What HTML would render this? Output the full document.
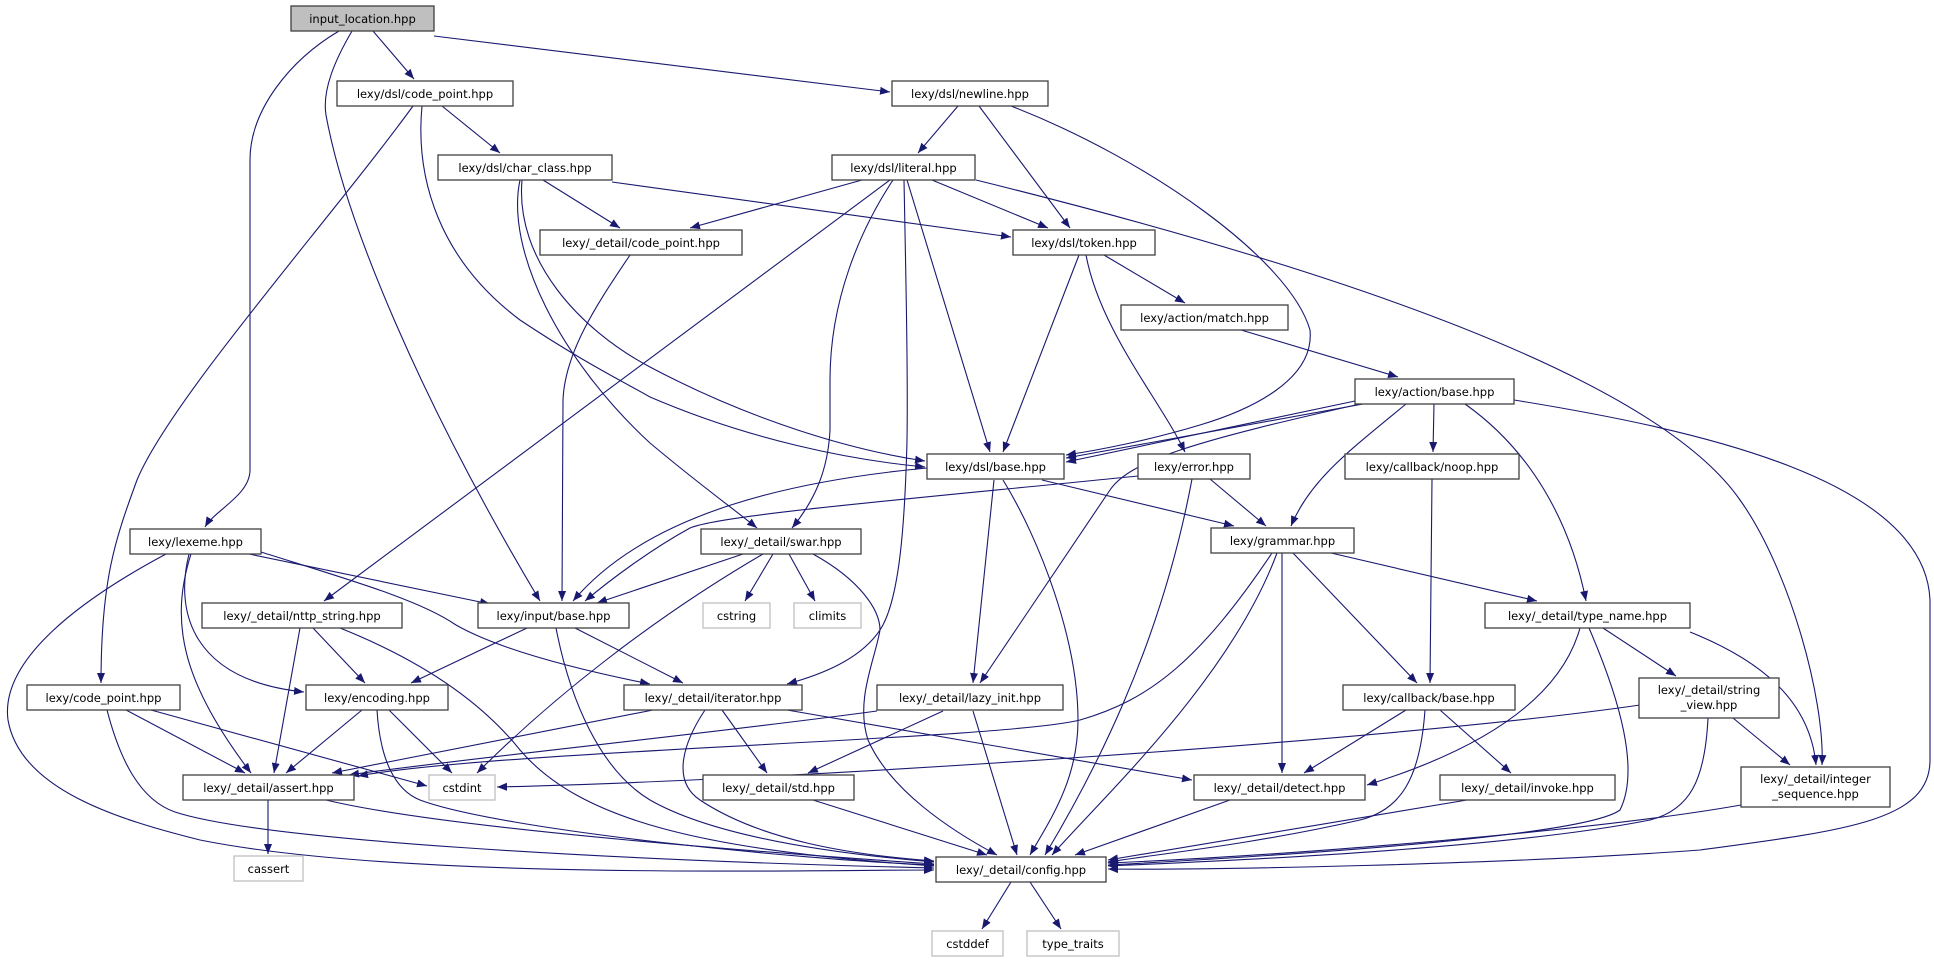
<!DOCTYPE html>
<html><head><meta charset="utf-8"><style>
html,body{margin:0;padding:0;background:#fff;}
svg{display:block;}
text{font-family:"DejaVu Sans","Liberation Sans",sans-serif;font-size:11.5px;fill:#000;text-anchor:middle;}
.n{fill:#fff;stroke:#404040;stroke-width:1.3;}
.g{fill:#fff;stroke:#bfbfbf;stroke-width:1.3;}
.e{fill:none;stroke:#191970;stroke-width:1.1;marker-end:url(#a);}
</style></head><body>
<svg width="1934" height="963" viewBox="0 0 1934 963" xmlns="http://www.w3.org/2000/svg">
<defs><marker id="a" markerUnits="userSpaceOnUse" markerWidth="11" markerHeight="9" refX="10" refY="4" orient="auto"><path d="M0,0 L10,4 L0,8 z" fill="#191970"/></marker></defs>
<g>
<path class="e" d="M373,31 L414,79"/>
<path class="e" d="M434,36 L890,92"/>
<path class="e" d="M339,31 C290,60 250,110 250,160 L250,470 C250,495 215,510 205,527"/>
<path class="e" d="M352,31 C335,60 322,90 326,115 C345,220 420,400 540,601"/>
<path class="e" d="M442,106 L500,153"/>
<path class="e" d="M413,106 C330,220 170,400 137,480 C115,540 101,580 101,683"/>
<path class="e" d="M422,106 C415,180 440,260 520,320 C580,360 620,380 650,397 C750,440 850,460 925,467"/>
<path class="e" d="M543,180 L620,228"/>
<path class="e" d="M612,182 L1011,237"/>
<path class="e" d="M522,180 C515,260 580,330 650,367 C750,420 850,450 925,461"/>
<path class="e" d="M520,180 C505,250 560,360 650,443 C700,485 735,510 757,528"/>
<path class="e" d="M630,255 C600,300 565,350 563,400 L562,601"/>
<path class="e" d="M958,106 L918,153"/>
<path class="e" d="M979,106 L1070,228"/>
<path class="e" d="M1011,106 C1150,160 1290,260 1310,330 C1315,380 1250,410 1200,425 C1150,440 1100,450 1066,455"/>
<path class="e" d="M862,180 L690,228"/>
<path class="e" d="M932,180 L1048,228"/>
<path class="e" d="M907,180 L990,452"/>
<path class="e" d="M893,180 C860,230 830,300 830,380 L830,430 C828,470 815,500 792,528"/>
<path class="e" d="M904,180 C906,280 908,380 907,440 C905,520 900,600 880,630 C860,660 820,675 787,684"/>
<path class="e" d="M890,180 L324,601"/>
<path class="e" d="M976,180 C1300,260 1650,370 1740,500 C1790,570 1825,700 1822,765"/>
<path class="e" d="M1079,255 L1003,452"/>
<path class="e" d="M1104,255 L1185,303"/>
<path class="e" d="M1086,255 C1100,330 1160,400 1185,452"/>
<path class="e" d="M1241,330 L1398,377"/>
<path class="e" d="M1363,404 L1066,458"/>
<path class="e" d="M1355,401 L1066,462"/>
<path class="e" d="M1406,404 C1350,450 1310,480 1291,526"/>
<path class="e" d="M1434,404 L1433,452"/>
<path class="e" d="M1465,404 C1530,450 1570,520 1586,601"/>
<path class="e" d="M1360,404 C1200,440 1130,460 1110,490 L980,683"/>
<path class="e" d="M1514,400 C1700,430 1925,480 1930,600 L1930,760 C1930,820 1850,830 1700,850 C1500,865 1200,870 1108,869"/>
<path class="e" d="M927,468 C800,480 650,510 573,601"/>
<path class="e" d="M1042,480 L1234,526"/>
<path class="e" d="M994,480 L973,683"/>
<path class="e" d="M1003,480 C1040,540 1078,640 1078,720 C1078,780 1050,820 1030,855"/>
<path class="e" d="M1138,476 C900,500 720,515 690,528 C650,550 610,580 585,601"/>
<path class="e" d="M1210,479 L1266,526"/>
<path class="e" d="M1192,479 C1160,650 1090,780 1045,855"/>
<path class="e" d="M1432,479 L1430,683"/>
<path class="e" d="M1331,553 L1537,601"/>
<path class="e" d="M1293,553 L1417,683"/>
<path class="e" d="M1282,553 L1282,773"/>
<path class="e" d="M1277,553 C1230,680 1100,800 1052,855"/>
<path class="e" d="M1272,553 C1200,660 1150,700 1080,720 C1000,740 500,750 358,776"/>
<path class="e" d="M166,554 C80,600 0,660 8,720 C20,790 120,820 200,840 C400,880 800,870 934,870"/>
<path class="e" d="M249,554 L490,604"/>
<path class="e" d="M261,552 C350,580 420,600 456,625 C500,650 580,670 650,684"/>
<path class="e" d="M189,554 C175,610 190,680 304,692"/>
<path class="e" d="M191,554 C170,620 180,680 251,773"/>
<path class="e" d="M743,554 L597,603"/>
<path class="e" d="M773,554 L745,601"/>
<path class="e" d="M789,554 L815,601"/>
<path class="e" d="M763,554 C650,620 550,700 477,773"/>
<path class="e" d="M813,554 C860,580 880,610 880,630 C875,660 855,700 868,740 C890,790 950,830 997,855"/>
<path class="e" d="M313,628 L365,683"/>
<path class="e" d="M300,628 L274,773"/>
<path class="e" d="M340,628 C420,660 480,700 520,750 C580,820 700,850 934,866"/>
<path class="e" d="M527,628 L411,683"/>
<path class="e" d="M575,628 L683,683"/>
<path class="e" d="M556,628 C570,700 600,770 650,800 C720,840 850,855 934,862"/>
<path class="e" d="M1603,628 L1676,676"/>
<path class="e" d="M1690,632 C1760,660 1810,700 1816,765"/>
<path class="e" d="M1580,628 C1560,700 1480,750 1367,785"/>
<path class="e" d="M1589,628 C1620,700 1640,770 1620,810 C1580,840 1200,860 1108,865"/>
<path class="e" d="M126,710 L245,773"/>
<path class="e" d="M151,710 L427,786"/>
<path class="e" d="M107,710 C120,760 140,800 175,812 C260,840 600,860 934,868"/>
<path class="e" d="M362,710 L286,773"/>
<path class="e" d="M389,710 L452,773"/>
<path class="e" d="M377,710 C380,760 395,790 420,800 C500,830 800,860 934,865"/>
<path class="e" d="M653,710 L332,773"/>
<path class="e" d="M722,710 L767,773"/>
<path class="e" d="M787,710 L1192,780"/>
<path class="e" d="M705,710 C685,740 670,780 700,800 C760,840 850,855 934,861"/>
<path class="e" d="M877,711 C700,735 450,760 349,775"/>
<path class="e" d="M943,711 L808,773"/>
<path class="e" d="M973,711 L1017,855"/>
<path class="e" d="M1406,710 L1304,773"/>
<path class="e" d="M1440,710 L1511,773"/>
<path class="e" d="M1425,710 C1420,780 1400,810 1360,820 C1250,845 1150,855 1108,862"/>
<path class="e" d="M1640,705 C1400,740 800,780 497,787"/>
<path class="e" d="M1733,718 L1790,765"/>
<path class="e" d="M1708,718 C1705,780 1690,810 1650,820 C1500,850 1200,862 1108,866"/>
<path class="e" d="M268,800 L268,854"/>
<path class="e" d="M326,800 C450,830 800,855 934,864"/>
<path class="e" d="M813,800 L987,855"/>
<path class="e" d="M1230,800 L1075,855"/>
<path class="e" d="M1467,800 L1108,860"/>
<path class="e" d="M1741,805 C1600,830 1300,855 1108,863"/>
<path class="e" d="M1011,882 L982,929"/>
<path class="e" d="M1030,882 L1061,929"/>
</g>
<g>
<rect x="291" y="6" width="143" height="25" fill="#bfbfbf" stroke="#404040" stroke-width="1.3"/><text x="362.5" y="23">input_location.hpp</text>
<rect class="n" x="337" y="81" width="176" height="25"/><text x="425" y="98">lexy/dsl/code_point.hpp</text>
<rect class="n" x="892" y="81" width="156" height="25"/><text x="970" y="98">lexy/dsl/newline.hpp</text>
<rect class="n" x="438" y="155" width="174" height="25"/><text x="525" y="172">lexy/dsl/char_class.hpp</text>
<rect class="n" x="832" y="155" width="143" height="25"/><text x="903.5" y="172">lexy/dsl/literal.hpp</text>
<rect class="n" x="540" y="230" width="202" height="25"/><text x="641" y="247">lexy/_detail/code_point.hpp</text>
<rect class="n" x="1013" y="230" width="142" height="25"/><text x="1084" y="247">lexy/dsl/token.hpp</text>
<rect class="n" x="1121" y="305" width="167" height="25"/><text x="1204.5" y="322">lexy/action/match.hpp</text>
<rect class="n" x="1355" y="379" width="159" height="25"/><text x="1434.5" y="396">lexy/action/base.hpp</text>
<rect class="n" x="927" y="454" width="137" height="25"/><text x="995.5" y="471">lexy/dsl/base.hpp</text>
<rect class="n" x="1138" y="454" width="112" height="25"/><text x="1194" y="471">lexy/error.hpp</text>
<rect class="n" x="1345" y="454" width="174" height="25"/><text x="1432" y="471">lexy/callback/noop.hpp</text>
<rect class="n" x="130" y="529" width="131" height="25"/><text x="195.5" y="546">lexy/lexeme.hpp</text>
<rect class="n" x="701" y="529" width="160" height="25"/><text x="781" y="546">lexy/_detail/swar.hpp</text>
<rect class="n" x="1211" y="528" width="143" height="25"/><text x="1282.5" y="545">lexy/grammar.hpp</text>
<rect class="n" x="202" y="603" width="200" height="25"/><text x="302" y="620">lexy/_detail/nttp_string.hpp</text>
<rect class="n" x="478" y="603" width="151" height="25"/><text x="553.5" y="620">lexy/input/base.hpp</text>
<rect class="g" x="703" y="603" width="67" height="25"/><text x="736.5" y="620">cstring</text>
<rect class="g" x="794" y="603" width="67" height="25"/><text x="827.5" y="620">climits</text>
<rect class="n" x="1485" y="603" width="205" height="25"/><text x="1587.5" y="620">lexy/_detail/type_name.hpp</text>
<rect class="n" x="27" y="685" width="153" height="25"/><text x="103.5" y="702">lexy/code_point.hpp</text>
<rect class="n" x="306" y="685" width="142" height="25"/><text x="377" y="702">lexy/encoding.hpp</text>
<rect class="n" x="624" y="685" width="178" height="25"/><text x="713" y="702">lexy/_detail/iterator.hpp</text>
<rect class="n" x="877" y="685" width="186" height="25"/><text x="970" y="702">lexy/_detail/lazy_init.hpp</text>
<rect class="n" x="1343" y="685" width="172" height="25"/><text x="1429" y="702">lexy/callback/base.hpp</text>
<rect class="n" x="1639" y="678" width="140" height="40"/><text x="1709" y="694">lexy/_detail/string</text><text x="1709" y="709">_view.hpp</text>
<rect class="n" x="183" y="775" width="171" height="25"/><text x="268.5" y="792">lexy/_detail/assert.hpp</text>
<rect class="g" x="429" y="775" width="66" height="25"/><text x="462" y="792">cstdint</text>
<rect class="n" x="703" y="775" width="151" height="25"/><text x="778.5" y="792">lexy/_detail/std.hpp</text>
<rect class="n" x="1194" y="775" width="171" height="25"/><text x="1279.5" y="792">lexy/_detail/detect.hpp</text>
<rect class="n" x="1440" y="775" width="175" height="25"/><text x="1527.5" y="792">lexy/_detail/invoke.hpp</text>
<rect class="n" x="1741" y="767" width="149" height="40"/><text x="1815.5" y="783">lexy/_detail/integer</text><text x="1815.5" y="798">_sequence.hpp</text>
<rect class="g" x="234" y="856" width="69" height="25"/><text x="268.5" y="873">cassert</text>
<rect class="n" x="936" y="857" width="170" height="25"/><text x="1021" y="874">lexy/_detail/config.hpp</text>
<rect class="g" x="932" y="931" width="71" height="25"/><text x="967.5" y="948">cstddef</text>
<rect class="g" x="1027" y="931" width="92" height="25"/><text x="1073" y="948">type_traits</text>
</g>
</svg>
</body></html>
